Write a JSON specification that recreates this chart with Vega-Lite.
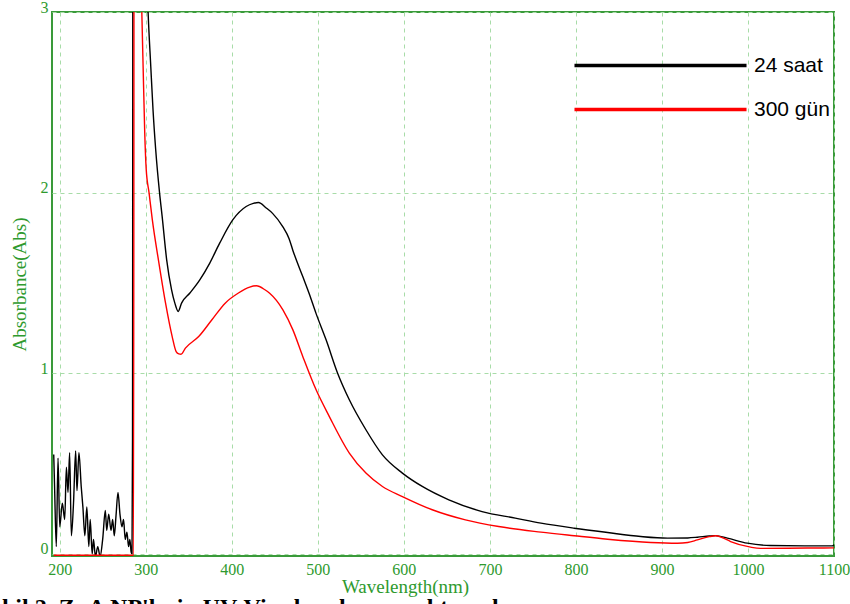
{
  "$schema": "https://vega.github.io/schema/vega-lite/v6.json",
  "width": 782,
  "height": 544,
  "autosize": {"type": "none"},
  "padding": {"left": 52, "top": 12, "right": 16, "bottom": 48},
  "background": "white",
  "title": {
    "text": "Şekil 2. ZnA NP'lerin UV-Vis absorbans spektrumları",
    "orient": "bottom",
    "anchor": "start",
    "frame": "group",
    "dx": -74,
    "offset": 0,
    "font": "Liberation Serif",
    "fontSize": 24,
    "fontWeight": "bold",
    "color": "black"
  },
  "data": {
    "values": [
      {"series": "24 saat", "wl": 193, "abs": 0.55},
      {"series": "24 saat", "wl": 194, "abs": 0.37},
      {"series": "24 saat", "wl": 196, "abs": 0.04},
      {"series": "24 saat", "wl": 198, "abs": 0.53},
      {"series": "24 saat", "wl": 200, "abs": 0.15},
      {"series": "24 saat", "wl": 203, "abs": 0.28},
      {"series": "24 saat", "wl": 205.8, "abs": 0.19},
      {"series": "24 saat", "wl": 207.7, "abs": 0.48},
      {"series": "24 saat", "wl": 209.6, "abs": 0.34},
      {"series": "24 saat", "wl": 211.5, "abs": 0.56},
      {"series": "24 saat", "wl": 213.5, "abs": 0.1},
      {"series": "24 saat", "wl": 216, "abs": 0.28},
      {"series": "24 saat", "wl": 218.5, "abs": 0.57},
      {"series": "24 saat", "wl": 220, "abs": 0.35},
      {"series": "24 saat", "wl": 222.3, "abs": 0.56},
      {"series": "24 saat", "wl": 225, "abs": 0.37},
      {"series": "24 saat", "wl": 226.9, "abs": 0.26},
      {"series": "24 saat", "wl": 229.2, "abs": 0.1},
      {"series": "24 saat", "wl": 231.5, "abs": 0.26},
      {"series": "24 saat", "wl": 233.8, "abs": 0.04},
      {"series": "24 saat", "wl": 235.4, "abs": 0.19},
      {"series": "24 saat", "wl": 237.7, "abs": 0.0},
      {"series": "24 saat", "wl": 239.2, "abs": 0.08},
      {"series": "24 saat", "wl": 241.5, "abs": -0.015},
      {"series": "24 saat", "wl": 244.2, "abs": 0.04},
      {"series": "24 saat", "wl": 246.9, "abs": -0.015},
      {"series": "24 saat", "wl": 249.9, "abs": 0.08},
      {"series": "24 saat", "wl": 253, "abs": 0.24},
      {"series": "24 saat", "wl": 254.6, "abs": 0.13},
      {"series": "24 saat", "wl": 256.9, "abs": 0.22},
      {"series": "24 saat", "wl": 259.6, "abs": 0.13},
      {"series": "24 saat", "wl": 261.5, "abs": 0.19},
      {"series": "24 saat", "wl": 263.4, "abs": 0.1},
      {"series": "24 saat", "wl": 265.4, "abs": 0.21},
      {"series": "24 saat", "wl": 267.7, "abs": 0.34},
      {"series": "24 saat", "wl": 270, "abs": 0.22},
      {"series": "24 saat", "wl": 272.3, "abs": 0.15},
      {"series": "24 saat", "wl": 274.2, "abs": 0.19},
      {"series": "24 saat", "wl": 276.1, "abs": 0.08},
      {"series": "24 saat", "wl": 278.1, "abs": 0.12},
      {"series": "24 saat", "wl": 280, "abs": 0.04},
      {"series": "24 saat", "wl": 281.5, "abs": 0.08},
      {"series": "24 saat", "wl": 283, "abs": 0.01},
      {"series": "24 saat", "wl": 284, "abs": 0.0},
      {"series": "24 saat", "wl": 284.6, "abs": 0.64},
      {"series": "24 saat", "wl": 285.2, "abs": 5},
      {"series": "24 saat", "wl": 300, "abs": 3.4},
      {"series": "24 saat", "wl": 302.7, "abs": 3.0},
      {"series": "24 saat", "wl": 305.8, "abs": 2.7},
      {"series": "24 saat", "wl": 308.4, "abs": 2.46},
      {"series": "24 saat", "wl": 311.5, "abs": 2.24},
      {"series": "24 saat", "wl": 316, "abs": 2.0},
      {"series": "24 saat", "wl": 319, "abs": 1.87},
      {"series": "24 saat", "wl": 324.3, "abs": 1.628},
      {"series": "24 saat", "wl": 330, "abs": 1.462},
      {"series": "24 saat", "wl": 333.8, "abs": 1.388},
      {"series": "24 saat", "wl": 337.7, "abs": 1.342},
      {"series": "24 saat", "wl": 341.6, "abs": 1.388},
      {"series": "24 saat", "wl": 351.3, "abs": 1.444},
      {"series": "24 saat", "wl": 362.8, "abs": 1.517},
      {"series": "24 saat", "wl": 374.4, "abs": 1.61},
      {"series": "24 saat", "wl": 385.9, "abs": 1.72},
      {"series": "24 saat", "wl": 401.3, "abs": 1.85},
      {"series": "24 saat", "wl": 416.7, "abs": 1.923},
      {"series": "24 saat", "wl": 425, "abs": 1.94},
      {"series": "24 saat", "wl": 431, "abs": 1.945},
      {"series": "24 saat", "wl": 440, "abs": 1.915},
      {"series": "24 saat", "wl": 447.4, "abs": 1.885},
      {"series": "24 saat", "wl": 459.4, "abs": 1.81},
      {"series": "24 saat", "wl": 466.6, "abs": 1.745},
      {"series": "24 saat", "wl": 471, "abs": 1.68},
      {"series": "24 saat", "wl": 482.5, "abs": 1.535},
      {"series": "24 saat", "wl": 490, "abs": 1.44},
      {"series": "24 saat", "wl": 498, "abs": 1.33},
      {"series": "24 saat", "wl": 509.6, "abs": 1.185},
      {"series": "24 saat", "wl": 523, "abs": 1.0},
      {"series": "24 saat", "wl": 536.6, "abs": 0.853},
      {"series": "24 saat", "wl": 555.9, "abs": 0.687},
      {"series": "24 saat", "wl": 575.1, "abs": 0.548},
      {"series": "24 saat", "wl": 598.3, "abs": 0.447},
      {"series": "24 saat", "wl": 621.4, "abs": 0.373},
      {"series": "24 saat", "wl": 652.3, "abs": 0.299},
      {"series": "24 saat", "wl": 690.9, "abs": 0.234},
      {"series": "24 saat", "wl": 729.5, "abs": 0.198},
      {"series": "24 saat", "wl": 759.4, "abs": 0.17},
      {"series": "24 saat", "wl": 798, "abs": 0.142},
      {"series": "24 saat", "wl": 836.8, "abs": 0.118},
      {"series": "24 saat", "wl": 875.4, "abs": 0.096},
      {"series": "24 saat", "wl": 906.4, "abs": 0.087},
      {"series": "24 saat", "wl": 930, "abs": 0.088},
      {"series": "24 saat", "wl": 941.2, "abs": 0.092},
      {"series": "24 saat", "wl": 955, "abs": 0.099},
      {"series": "24 saat", "wl": 962.4, "abs": 0.101},
      {"series": "24 saat", "wl": 976, "abs": 0.087},
      {"series": "24 saat", "wl": 999.2, "abs": 0.059},
      {"series": "24 saat", "wl": 1026, "abs": 0.046},
      {"series": "24 saat", "wl": 1092, "abs": 0.044},
      {"series": "24 saat", "wl": 1098, "abs": 0.044},
      {"series": "24 saat", "wl": 1100, "abs": 0.05},
      {"series": "300 gün", "wl": 193, "abs": -0.008},
      {"series": "300 gün", "wl": 285.8, "abs": -0.008},
      {"series": "300 gün", "wl": 286.6, "abs": 5},
      {"series": "300 gün", "wl": 294, "abs": 3.3},
      {"series": "300 gün", "wl": 295.4, "abs": 3.0},
      {"series": "300 gün", "wl": 296.9, "abs": 2.7},
      {"series": "300 gün", "wl": 298.8, "abs": 2.33},
      {"series": "300 gün", "wl": 300.5, "abs": 2.13},
      {"series": "300 gün", "wl": 303.8, "abs": 2.0},
      {"series": "300 gün", "wl": 307.6, "abs": 1.85},
      {"series": "300 gün", "wl": 315.3, "abs": 1.61},
      {"series": "300 gün", "wl": 323, "abs": 1.388},
      {"series": "300 gün", "wl": 330.7, "abs": 1.203},
      {"series": "300 gün", "wl": 335.3, "abs": 1.12},
      {"series": "300 gün", "wl": 338.4, "abs": 1.107},
      {"series": "300 gün", "wl": 341, "abs": 1.105},
      {"series": "300 gün", "wl": 346.1, "abs": 1.139},
      {"series": "300 gün", "wl": 361.5, "abs": 1.203},
      {"series": "300 gün", "wl": 376.9, "abs": 1.296},
      {"series": "300 gün", "wl": 392.3, "abs": 1.388},
      {"series": "300 gün", "wl": 407.7, "abs": 1.444},
      {"series": "300 gün", "wl": 420.8, "abs": 1.477},
      {"series": "300 gün", "wl": 428.5, "abs": 1.484},
      {"series": "300 gün", "wl": 438.5, "abs": 1.462},
      {"series": "300 gün", "wl": 444, "abs": 1.443},
      {"series": "300 gün", "wl": 459.4, "abs": 1.351},
      {"series": "300 gün", "wl": 471, "abs": 1.24},
      {"series": "300 gün", "wl": 482.5, "abs": 1.093},
      {"series": "300 gün", "wl": 498, "abs": 0.908},
      {"series": "300 gün", "wl": 513.4, "abs": 0.76},
      {"series": "300 gün", "wl": 536.6, "abs": 0.558},
      {"series": "300 gün", "wl": 555.9, "abs": 0.447},
      {"series": "300 gün", "wl": 575.1, "abs": 0.373},
      {"series": "300 gün", "wl": 598.3, "abs": 0.317},
      {"series": "300 gün", "wl": 633, "abs": 0.244},
      {"series": "300 gün", "wl": 671.6, "abs": 0.188},
      {"series": "300 gün", "wl": 710.2, "abs": 0.151},
      {"series": "300 gün", "wl": 759.4, "abs": 0.12},
      {"series": "300 gün", "wl": 798, "abs": 0.1},
      {"series": "300 gün", "wl": 836.8, "abs": 0.081},
      {"series": "300 gün", "wl": 887, "abs": 0.063},
      {"series": "300 gün", "wl": 918, "abs": 0.059},
      {"series": "300 gün", "wl": 930, "abs": 0.063},
      {"series": "300 gün", "wl": 941.2, "abs": 0.077},
      {"series": "300 gün", "wl": 955, "abs": 0.095},
      {"series": "300 gün", "wl": 962.4, "abs": 0.1},
      {"series": "300 gün", "wl": 970, "abs": 0.09},
      {"series": "300 gün", "wl": 979.8, "abs": 0.068},
      {"series": "300 gün", "wl": 1003, "abs": 0.037},
      {"series": "300 gün", "wl": 1014.6, "abs": 0.03},
      {"series": "300 gün", "wl": 1068.8, "abs": 0.032},
      {"series": "300 gün", "wl": 1100, "abs": 0.033}
    ]
  },
  "mark": {"type": "line", "strokeWidth": 1.4, "clip": true, "strokeJoin": "round", "interpolate": "monotone"},
  "encoding": {
    "x": {
      "field": "wl",
      "type": "quantitative",
      "scale": {"domain": [191, 1100], "nice": false, "zero": false},
      "axis": {
        "values": [200, 300, 400, 500, 600, 700, 800, 900, 1000, 1100],
        "format": "d",
        "title": "Wavelength(nm)",
        "labelBaseline": "alphabetic",
        "labelPadding": 18,
        "titleX": 353,
        "titleY": 36,
        "titleBaseline": "alphabetic",
        "titleAnchor": null
      }
    },
    "y": {
      "field": "abs",
      "type": "quantitative",
      "scale": {"domain": [-0.012, 3], "nice": false, "zero": false},
      "axis": {
        "values": [0, 1, 2, 3],
        "format": "d",
        "title": "Absorbance(Abs)",
        "labelBaseline": "alphabetic",
        "labelPadding": 4,
        "titlePadding": 11
      }
    },
    "color": {
      "field": "series",
      "type": "nominal",
      "scale": {"domain": ["24 saat", "300 gün"], "range": ["#000000", "#ff0000"]},
      "legend": {
        "orient": "none",
        "legendX": 598,
        "legendY": 43,
        "title": null,
        "symbolType": "M-10,0H10",
        "symbolSize": 296,
        "symbolStrokeWidth": 3.5,
        "labelFont": "Liberation Sans",
        "labelFontSize": 21,
        "labelColor": "#000000",
        "labelOffset": 83,
        "rowPadding": 22,
        "padding": 0
      }
    }
  },
  "config": {
    "view": {"stroke": "#3a9a3a", "strokeWidth": 2},
    "axis": {
      "domain": false,
      "ticks": false,
      "grid": true,
      "gridColor": "#a8dca8",
      "gridDash": [4, 4],
      "gridWidth": 1,
      "labelFont": "Liberation Serif",
      "labelFontSize": 16,
      "labelColor": "#2e9a2e",
      "labelFlush": false,
      "labelOverlap": false,
      "titleFont": "Liberation Serif",
      "titleFontSize": 19,
      "titleFontWeight": "normal",
      "titleColor": "#2e9a2e"
    }
  }
}
